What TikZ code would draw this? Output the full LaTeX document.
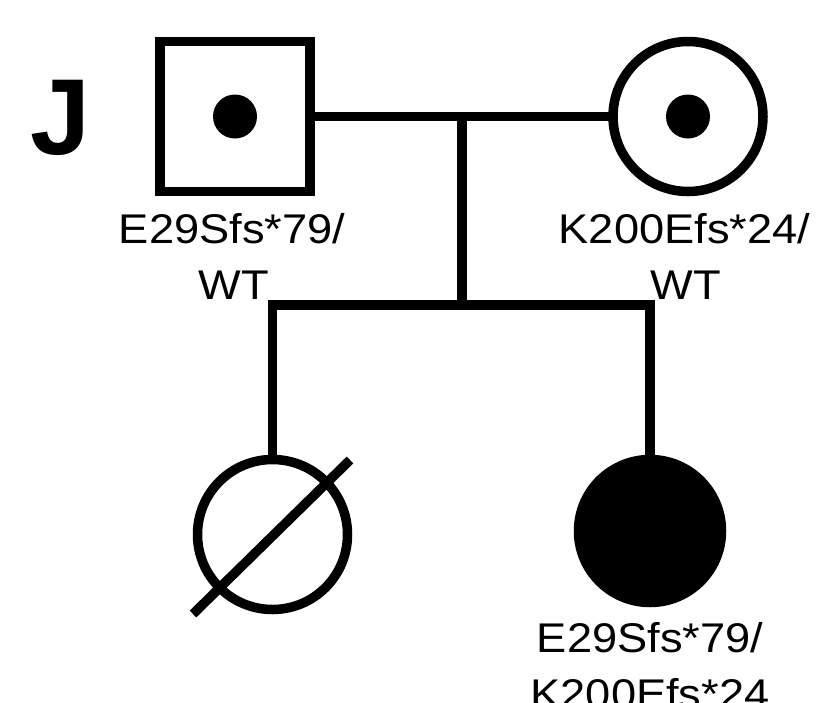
\documentclass[tikz,border=0pt]{standalone}
\usepackage{fontspec}
\setmainfont{Liberation Sans}
\newfontfamily\labfont[FakeStretch=1.09]{Liberation Sans}
\begin{document}
\begin{tikzpicture}[x=1pt,y=-1pt,
  every node/.style={inner sep=0pt,outer sep=0pt},
  ln/.style={line width=9.5pt,line join=miter,line cap=butt},
  male/.style={draw,rectangle,line width=9.5pt,minimum size=150pt},
  female/.style={draw,circle,line width=9.5pt,minimum size=150pt},
  affected/.style={draw,fill,circle,line width=9.5pt,minimum size=143pt},
  carrierdot/.style={fill,circle,minimum size=44pt},
  lab/.style={font=\labfont\fontsize{41.5}{50}\selectfont,anchor=base},
  panel/.style={font=\bfseries\fontsize{108}{120}\selectfont}]
\useasboundingbox (0,0) rectangle (833,702);
% panel letter
\node[panel] (J) at (61,118) {J};
% parents
\node[male] (f) at (235,116.5) {};
\node[carrierdot] (fd) at (235,116.5) {};
\node[female] (m) at (688,116.5) {};
\node[carrierdot] (md) at (688,116.5) {};
% children
\node[female] (c1) at (272.5,534.5) {};
\node[affected] (c2) at (650,531) {};
% connectors
\coordinate (mid) at (462,116.5);
\coordinate (sib) at (462,305);
\coordinate (sl) at (272.5,305);
\coordinate (sr) at (650,305);
\draw[ln] (f.east) -- (m.west);
\draw[ln] (mid) -- (sib);
\draw[ln] (c1.north) -- (sl) -- (sr) -- (c2.north);
% deceased slash
\coordinate (s1) at (193,614);
\coordinate (s2) at (350,460);
\draw[ln] (s1) -- (s2);
% labels
\node[lab] (fl1) at (232,243) {E29Sfs*79/};
\node[lab] (fl2) at (234,299) {WT};
\node[lab] (ml1) at (684.5,243) {K200Efs*24/};
\node[lab] (ml2) at (686,299) {WT};
\node[lab] (cl1) at (650,652) {E29Sfs*79/};
\node[lab] (cl2) at (650,708) {K200Efs*24};
\end{tikzpicture}
\end{document}
